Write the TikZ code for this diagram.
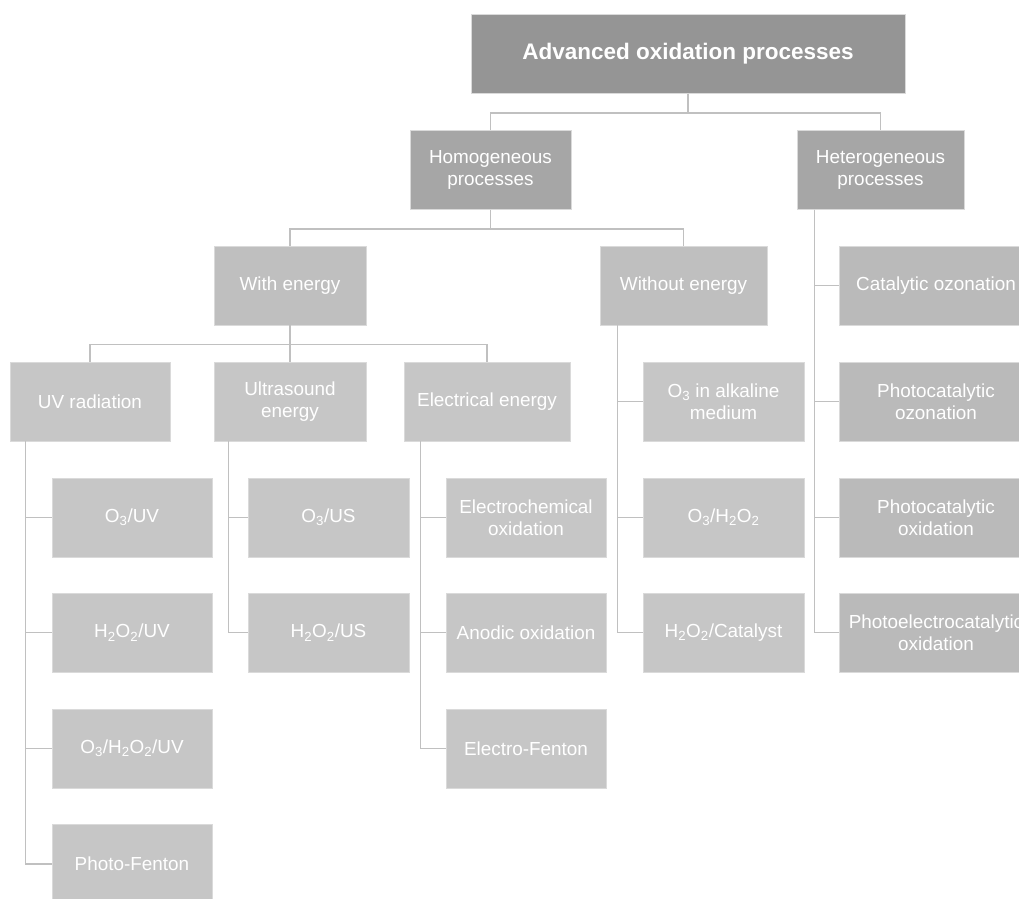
\documentclass[tikz,border=0pt]{standalone}
\usepackage{fontspec}
\setmainfont{Liberation Sans}

\definecolor{topgray}{HTML}{959595}
\definecolor{midgray}{HTML}{A6A6A6}
\definecolor{engray}{HTML}{BFBFBF}
\definecolor{hetgray}{HTML}{BABABA}
\definecolor{leafgray}{HTML}{C6C6C6}
\definecolor{edgegray}{HTML}{DADADA}
\definecolor{linegray}{HTML}{C0C0C0}

\tikzset{
  box/.style={draw=edgegray,line width=0.8pt,text=white,align=center,
    inner sep=0pt,minimum height=79pt,
    font=\fontsize{18.9}{21.5}\selectfont},
  leaf/.style={box,fill=leafgray,minimum width=160pt},
  link/.style={draw=linegray,line width=1.5pt},
}

\begin{document}
\begin{tikzpicture}[x=1pt,y=-1pt]
   \useasboundingbox (0,0) rectangle (1019,898);
   \clip (0,0) rectangle (1019,898);

   % top of the tree
   \node[box,fill=topgray,minimum width=434pt,font=\fontsize{22.5}{26}\selectfont\bfseries]
     (aop) at (688,54) {Advanced oxidation processes};
   \node[box,fill=midgray,minimum width=161pt] (homog) at (490.5,170) {Homogeneous\\processes};
   \node[box,fill=midgray,minimum width=167pt] (hetero) at (880.5,170) {Heterogeneous\\processes};
   \draw[link] (aop.south) -- +(0,19) -| (homog.north);
   \draw[link] (aop.south) -- +(0,19) -| (hetero.north);

   % homogeneous
   \node[box,fill=engray,minimum width=152pt] (withen) at (290,285.5) {With energy};
   \node[box,fill=engray,minimum width=167pt] (withouten) at (683.5,285.5) {Without energy};
   \draw[link] (homog.south) -- +(0,19) -| (withen.north);
   \draw[link] (homog.south) -- +(0,19) -| (withouten.north);

   \node[leaf] (uv) at (90,401.5) {UV radiation};
   \node[leaf,minimum width=152pt] (us) at (290,401.5) {Ultrasound\\energy};
   \node[leaf,minimum width=166pt] (elec) at (487,401.5) {Electrical energy};
   \draw[link] (withen.south) -- +(0,19) -| (uv.north);
   \draw[link] (withen.south) -- (us.north);
   \draw[link] (withen.south) -- +(0,19) -| (elec.north);

   % UV radiation
   \node[leaf] (o3uv) at (132,517.5) {O\textsubscript{3}/UV};
   \node[leaf] (h2o2uv) at (132,632.5) {H\textsubscript{2}O\textsubscript{2}/UV};
   \node[leaf] (o3h2o2uv) at (132,748.5) {O\textsubscript{3}/H\textsubscript{2}O\textsubscript{2}/UV};
   \node[leaf] (photofenton) at (132,864) {Photo-Fenton};
   \draw[link] (uv.south west) ++(16,0) |- (o3uv.west);
   \draw[link] (uv.south west) ++(16,0) |- (h2o2uv.west);
   \draw[link] (uv.south west) ++(16,0) |- (o3h2o2uv.west);
   \draw[link] (uv.south west) ++(16,0) |- (photofenton.west);

   % ultrasound
   \node[leaf,minimum width=161pt] (o3us) at (328.5,517.5) {O\textsubscript{3}/US};
   \node[leaf,minimum width=161pt] (h2o2us) at (328.5,632.5) {H\textsubscript{2}O\textsubscript{2}/US};
   \draw[link] (us.south west) ++(15,0) |- (o3us.west);
   \draw[link] (us.south west) ++(15,0) |- (h2o2us.west);

   % electrical energy
   \node[leaf] (echem) at (526,517.5) {Electrochemical\\oxidation};
   \node[leaf] (anodic) at (526,632.5) {Anodic oxidation};
   \node[leaf] (efenton) at (526,748.5) {Electro-Fenton};
   \draw[link] (elec.south west) ++(17,0) |- (echem.west);
   \draw[link] (elec.south west) ++(17,0) |- (anodic.west);
   \draw[link] (elec.south west) ++(17,0) |- (efenton.west);

   % without energy
   \node[leaf,minimum width=161pt] (o3alk) at (723.5,401.5) {O\textsubscript{3} in alkaline\\medium};
   \node[leaf,minimum width=161pt] (o3h2o2) at (723.5,517.5) {O\textsubscript{3}/H\textsubscript{2}O\textsubscript{2}};
   \node[leaf,minimum width=161pt] (h2o2cat) at (723.5,632.5) {H\textsubscript{2}O\textsubscript{2}/Catalyst};
   \draw[link] (withouten.south west) ++(18,0) |- (o3alk.west);
   \draw[link] (withouten.south west) ++(18,0) |- (o3h2o2.west);
   \draw[link] (withouten.south west) ++(18,0) |- (h2o2cat.west);

   % heterogeneous
   \node[box,fill=hetgray,minimum width=194pt] (catoz) at (936,285.5) {Catalytic ozonation};
   \node[box,fill=hetgray,minimum width=194pt] (photoz) at (936,401.5) {Photocatalytic\\ozonation};
   \node[box,fill=hetgray,minimum width=194pt] (photox) at (936,517.5) {Photocatalytic\\oxidation};
   \node[box,fill=hetgray,minimum width=194pt] (pecox) at (936,632.5) {Photoelectrocatalytic\\oxidation};
   \draw[link] (hetero.south west) ++(18,0) |- (catoz.west);
   \draw[link] (hetero.south west) ++(18,0) |- (photoz.west);
   \draw[link] (hetero.south west) ++(18,0) |- (photox.west);
   \draw[link] (hetero.south west) ++(18,0) |- (pecox.west);
\end{tikzpicture}
\end{document}
